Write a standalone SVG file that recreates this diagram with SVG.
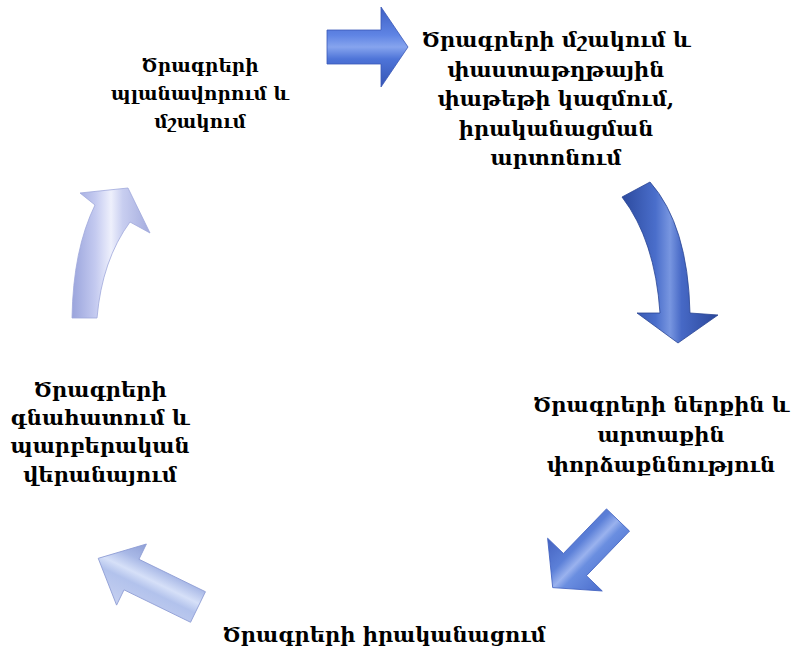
<svg xmlns="http://www.w3.org/2000/svg" width="792" height="655" viewBox="0 0 792 655">
<style>
  text { font-family: "DejaVu Serif", "Noto Serif Armenian", "DejaVu Sans", serif; font-size: 21px; font-weight: bold; fill: #000; text-anchor: middle; }
  .small { font-size: 18.5px; }
</style>
<defs>
  <linearGradient id="gA1" x1="0" y1="0" x2="0" y2="1">
    <stop offset="0" stop-color="#3d5fc4"/>
    <stop offset="0.35" stop-color="#5f84e4"/>
    <stop offset="0.5" stop-color="#86a4ee"/>
    <stop offset="0.65" stop-color="#4e74d8"/>
    <stop offset="1" stop-color="#3555b4"/>
  </linearGradient>
  <linearGradient id="gA2" x1="0" y1="0" x2="1" y2="0">
    <stop offset="0" stop-color="#2c4a9e"/>
    <stop offset="0.35" stop-color="#4a6ecb"/>
    <stop offset="0.5" stop-color="#7896e0"/>
    <stop offset="0.62" stop-color="#4769c6"/>
    <stop offset="1" stop-color="#2a479a"/>
  </linearGradient>
  <linearGradient id="gA3" x1="0" y1="0" x2="0" y2="1">
    <stop offset="0" stop-color="#4a6ccc"/>
    <stop offset="0.4" stop-color="#6a8ee0"/>
    <stop offset="0.5" stop-color="#9ab2ee"/>
    <stop offset="0.65" stop-color="#5c80d8"/>
    <stop offset="1" stop-color="#4462c0"/>
  </linearGradient>
  <linearGradient id="gA4" x1="0" y1="0" x2="0" y2="1">
    <stop offset="0" stop-color="#c6d0f0"/>
    <stop offset="0.4" stop-color="#b2c2ec"/>
    <stop offset="0.55" stop-color="#d6e0f8"/>
    <stop offset="0.75" stop-color="#a8b8e6"/>
    <stop offset="1" stop-color="#8f9fd6"/>
  </linearGradient>
  <linearGradient id="gA5" x1="0" y1="0" x2="1" y2="0">
    <stop offset="0" stop-color="#9aa4dc"/>
    <stop offset="0.3" stop-color="#c4caf0"/>
    <stop offset="0.5" stop-color="#eef0fc"/>
    <stop offset="0.65" stop-color="#c8cef0"/>
    <stop offset="1" stop-color="#a4acde"/>
  </linearGradient>
</defs>

<g id="connectors">
  <path id="arrow-1" d="M0,-17 L54,-17 L54,-40 L81,0 L54,40 L54,17 L0,17 Z" transform="translate(327,47)" fill="url(#gA1)" stroke="#3a58b8" stroke-width="0.8"/>
  <path id="arrow-2" d="M622,197 Q655,240 660,313 L637,313 L678,343 L718,315 L690,313 Q688,225 650,182 Z" fill="url(#gA2)" stroke="#2a4594" stroke-width="0.8"/>
  <path id="arrow-3" d="M0,-16 L62,-16 L62,-38 L94,0 L62,38 L62,16 L0,16 Z" transform="translate(618,520) rotate(134)" fill="url(#gA3)" stroke="#4060c0" stroke-width="0.8"/>
  <path id="arrow-4" d="M0,-17 L74,-17 L74,-34 L111,0 L74,34 L74,17 L0,17 Z" transform="translate(198,607) rotate(206)" fill="url(#gA4)" stroke="#8e9cd4" stroke-width="0.8"/>
  <path id="arrow-5" d="M72,318 Q73,250 95,205 L80,193 L128,188 L150,233 L130,222 Q102,260 97,318 Z" fill="url(#gA5)" stroke="#a0a8dc" stroke-width="0.8"/>
</g>

<g id="node-planning">
  <text class="small" x="200" y="72">Ծրագրերի</text>
  <text class="small" x="200" y="100">պլանավորում և</text>
  <text class="small" x="200" y="128">մշակում</text>
</g>

<g id="node-development">
  <text x="556" y="47">Ծրագրերի մշակում և</text>
  <text x="556" y="77">փաստաթղթային</text>
  <text x="556" y="106">փաթեթի կազմում,</text>
  <text x="556" y="136">իրականացման</text>
  <text x="556" y="165">արտոնում</text>
</g>

<g id="node-expertise">
  <text x="661" y="412">Ծրագրերի ներքին և</text>
  <text x="661" y="442">արտաքին</text>
  <text x="661" y="472">փորձաքննություն</text>
</g>

<g id="node-implementation">
  <text x="384" y="642">Ծրագրերի իրականացում</text>
</g>

<g id="node-evaluation">
  <text x="100" y="397">Ծրագրերի</text>
  <text x="100" y="425">գնահատում և</text>
  <text x="100" y="453">պարբերական</text>
  <text x="100" y="482">վերանայում</text>
</g>
</svg>
